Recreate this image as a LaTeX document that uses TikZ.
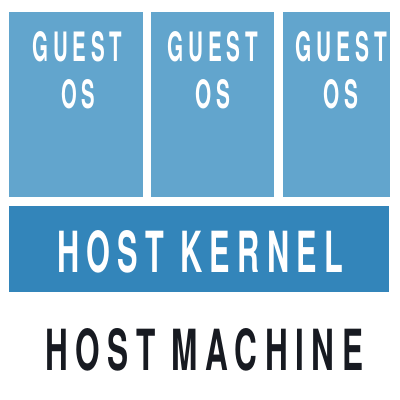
\documentclass[tikz,border=0pt]{standalone}
\usepackage{fontspec}
\usepackage{graphicx}
\setmainfont{TeX Gyre Heros}
\definecolor{guestblue}{HTML}{62A5CD}
\definecolor{kernelblue}{HTML}{3385BA}
\definecolor{inkdark}{HTML}{171A21}
% squeeze a caps word into a given width x height (px)
\newcommand{\capsword}[3]{\resizebox{#1pt}{#2pt}{\bfseries\addfontfeature{LetterSpace=24}#3}}

\begin{document}
\begin{tikzpicture}[x=1pt, y=-1pt,
guestbox/.style={rectangle, fill=guestblue, inner sep=0pt, outer sep=0pt, anchor=north west},
kernelbox/.style={rectangle, fill=kernelblue, inner sep=0pt, outer sep=0pt, anchor=north west},
boxtext/.style={inner sep=0pt, text=white, anchor=west},
]

\useasboundingbox[fill=white] (0,0) rectangle (400,400);

% guest systems
\node (guestA) [guestbox, minimum width=134pt, minimum height=185pt] at (9,12) {};
\node (guestB) [guestbox, minimum width=123pt, minimum height=185pt] at (151,12) {};
\node (guestC) [guestbox, minimum width=107pt, minimum height=185pt] at (283,12) {};

\node (guestAtop) [boxtext] at (32,47) {\capsword{90}{30}{GUEST}};
\node (guestAbot) [boxtext] at (61,94) {\capsword{34}{29}{OS}};
\node (guestBtop) [boxtext] at (167,47) {\capsword{91}{30}{GUEST}};
\node (guestBbot) [boxtext] at (195,94) {\capsword{35}{29}{OS}};
\node (guestCtop) [boxtext] at (295,47) {\capsword{92}{30}{GUEST}};
\node (guestCbot) [boxtext] at (323,94) {\capsword{35}{29}{OS}};

% kernel
\node (kernel) [kernelbox, minimum width=380pt, minimum height=86pt] at (9,206) {};
\node (kernellabel) [boxtext] at (57,252) {\capsword{286}{42}{HOST KERNEL}};

% machine
\node (machine) [boxtext, text=inkdark] at (45,350) {\capsword{318}{42}{HOST MACHINE}};

\end{tikzpicture}
\end{document}
